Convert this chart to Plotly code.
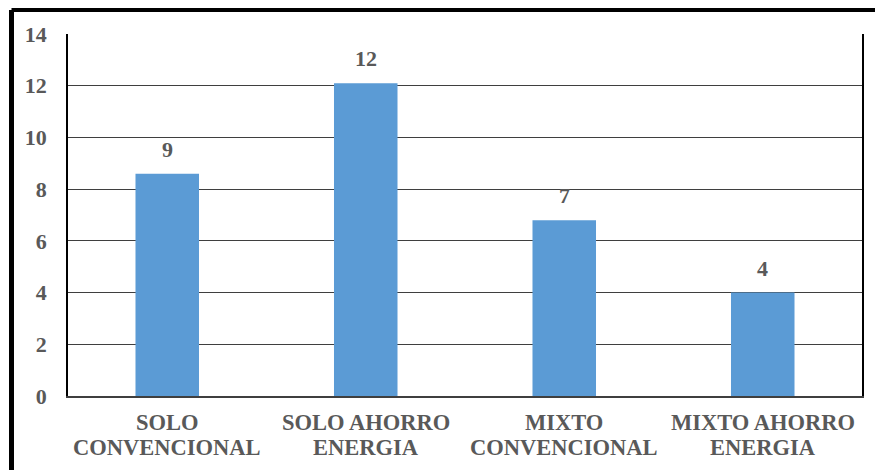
import plotly.graph_objects as go

categories = ["SOLO<br>CONVENCIONAL", "SOLO AHORRO<br>ENERGIA", "MIXTO<br>CONVENCIONAL", "MIXTO AHORRO<br>ENERGIA"]
values = [8.6, 12.1, 6.8, 4.0]
y_ticks = [0, 2, 4, 6, 8, 10, 12, 14]

W, H = 875, 470
L, R, T, B = 68, 13, 34, 74
pw, ph = W - L - R, H - T - B

def px_x(x):
    return (x - L) / pw

def px_y(y):
    return (H - B - y) / ph

font_family = "Liberation Serif"
gray = "#595959"

fig = go.Figure(
    go.Bar(
        x=categories,
        y=values,
        marker=dict(color="#5B9BD5", line=dict(width=0)),
        width=0.32,
        hoverinfo="y",
    )
)

# value labels above each bar, rounded to whole numbers
for c, v in zip(categories, values):
    fig.add_annotation(
        x=c, y=v, text=f"<b>{v:.0f}</b>", showarrow=False,
        yanchor="bottom", yshift=10,
        font=dict(family=font_family, size=22, color=gray),
    )

# category labels, one annotation per line for tight line spacing
line_shifts = [-26, -51]
for c in categories:
    for line, shift in zip(c.split("<br>"), line_shifts):
        fig.add_annotation(
            x=c, xref="x", y=0, yref="paper", text=f"<b>{line}</b>",
            showarrow=False, yanchor="middle", yshift=shift,
            font=dict(family=font_family, size=22.5, color=gray),
        )

fig.update_layout(
    width=W,
    height=H,
    margin=dict(l=L, r=R, t=T, b=B, autoexpand=False),
    paper_bgcolor="white",
    plot_bgcolor="white",
    showlegend=False,
    font=dict(family=font_family, size=22, color=gray),
    shapes=[
        # outer frame: top and left edges
        dict(type="line", xref="paper", yref="paper",
             x0=px_x(11.5), x1=px_x(900), y0=px_y(10), y1=px_y(10),
             line=dict(color="black", width=4)),
        dict(type="line", xref="paper", yref="paper",
             x0=px_x(11.5), x1=px_x(11.5), y0=px_y(10), y1=px_y(500),
             line=dict(color="black", width=5)),
    ],
)

fig.update_xaxes(
    automargin=False,
    showline=True,
    linecolor="#3f3f3f",
    linewidth=1.5,
    showgrid=False,
    showticklabels=False,
)

fig.update_yaxes(
    automargin=False,
    range=[0, 14],
    tickvals=y_ticks,
    ticktext=[f"<b>{v}</b>" for v in y_ticks],
    showgrid=True,
    gridcolor="#3f3f3f",
    gridwidth=1,
    zeroline=False,
    showline=True,
    linecolor="black",
    linewidth=1.5,
    mirror=True,
    tickfont=dict(family=font_family, size=22, color=gray),
    ticklabelstandoff=15,
)

fig.write_html("out.html")
